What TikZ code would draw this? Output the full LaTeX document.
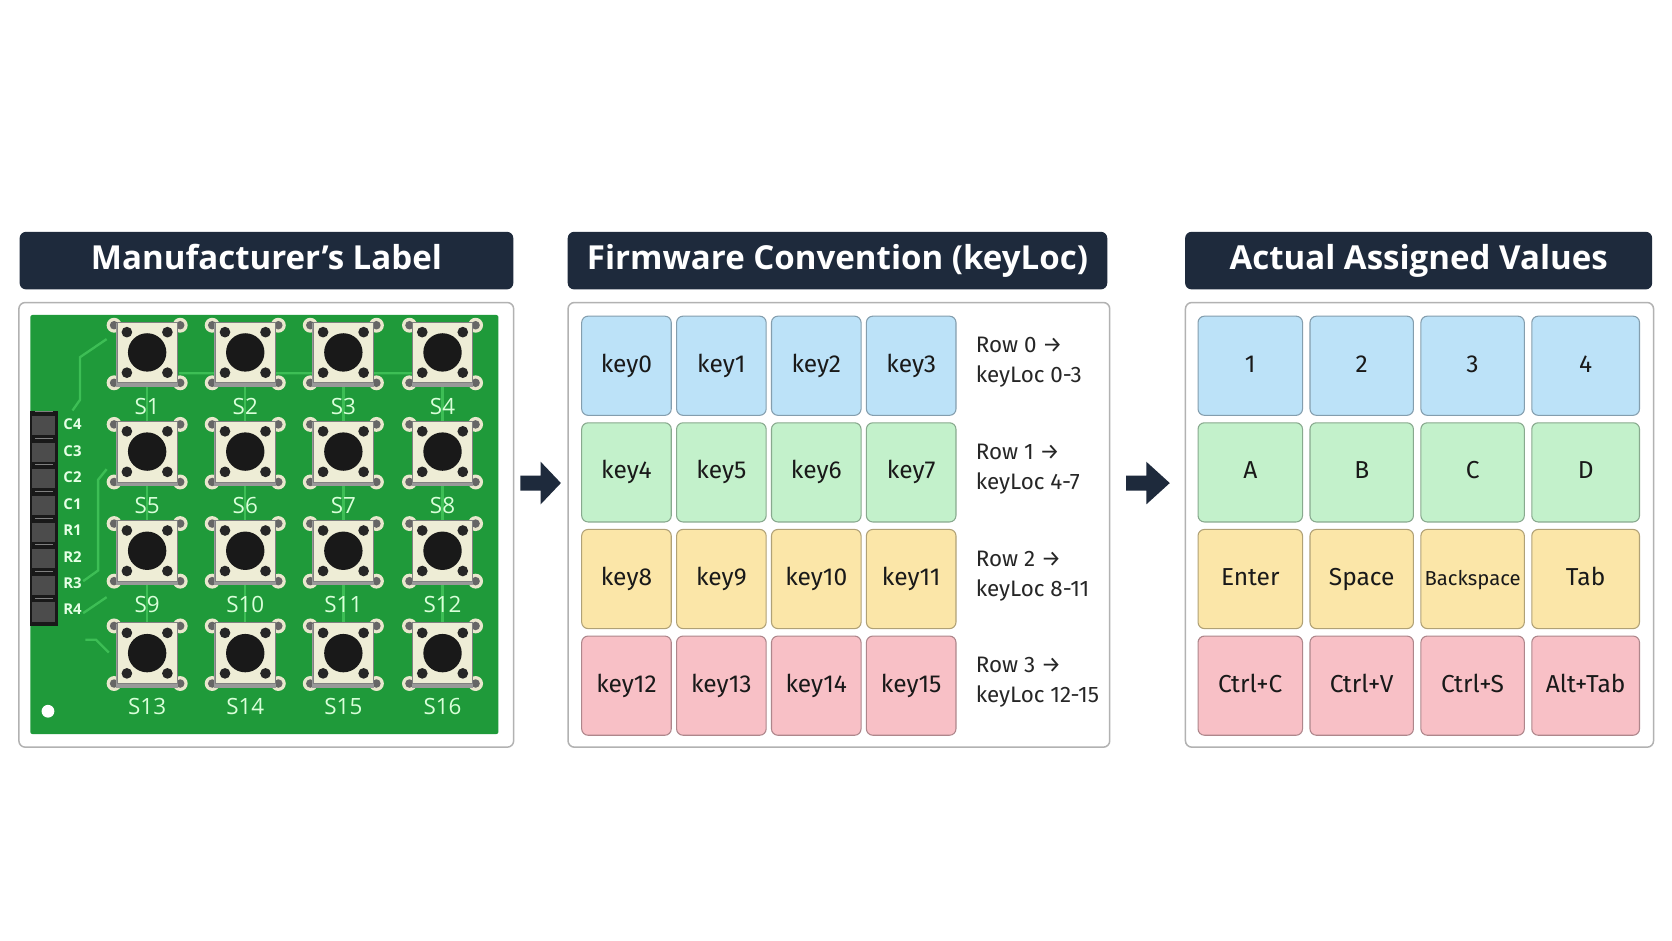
\documentclass[tikz,border=0pt]{standalone}
\usepackage{fontspec}
\setmainfont{Open Sans}
\newfontfamily\cellf{Fira Sans}
\begin{document}
\begin{tikzpicture}[x=0.5pt,y=-0.5pt,
  box/.style 2 args={minimum width=#1*0.5pt,minimum height=#2*0.5pt,inner sep=0,anchor=north west},
  hdr/.style={fill=hdrc,rounded corners=3pt,draw=none},
  body/.style={fill=white,draw=black!30,line width=0.7pt,rounded corners=3pt},
  hdrtxt/.style={text=white,font=\bfseries\fontsize{15.5}{18}\selectfont,text height=11.5pt,text depth=3.5pt,inner sep=0},
  cell/.style={draw=#1!70!black,fill=#1,rounded corners=3pt,line width=0.5pt},
  ctxt/.style={font=\cellf\fontsize{11.5}{13}\selectfont,text=black!90,text height=8.5pt,text depth=2.5pt},
  rtxt/.style={font=\cellf\fontsize{10.5}{14}\selectfont,text=black!85,align=left,anchor=west},
  slab/.style={font=\fontsize{10.5}{12}\selectfont,text=white!85!green},
  pin/.style={font=\bfseries\fontsize{7}{8}\selectfont,text=white!90!green},
  tr/.style={trace,line width=1.1pt},
  arr/.style={fill=hdrc,draw=none},
  pics/btn/.style={code={
    \foreach \sx in {-1,1}\foreach \sy in {-1,1}{
      \fill[white!85!yellow!80!gray] (\sx*31,\sy*27) circle (7);
      \fill[black!60] (\sx*31,\sy*27) circle (4);}
    \fill[black!40] (-29,-29)rectangle(29,31);
    \fill[white!88!yellow!85!gray] (-28,-30) rectangle (28,27);
    \draw[black!50,line width=0.4pt] (-28,-30) rectangle (28,27);
    \foreach \sx in {-1,1}\foreach \sy in {-1,1}\fill[black!85] (\sx*19,\sy*19-1.5) circle (5);
    \fill[black!90] (0,-1.5) circle (18);
  }}]
\definecolor{hdrc}{HTML}{1E2A3C}
\definecolor{pcb}{HTML}{1F9A3A}
\definecolor{trace}{HTML}{3DBE55}
\definecolor{cb}{HTML}{BCE2F8}
\definecolor{cg}{HTML}{C3F1CB}
\definecolor{cy}{HTML}{FBE6A8}
\definecolor{cr}{HTML}{F8C0C6}
\useasboundingbox (0,0) rectangle (1568,882);
\fill[white] (0,0) rectangle (1568,882);
% ---- panel 1
\node[hdr,box={463}{54}] (h1) at (18,217) {};
\node[hdrtxt] (h1t) at (h1.center) {Manufacturer’s Label};
\node[body,box={464}{417}] (b1) at (17,283) {};
\node[fill=pcb,rounded corners=1pt,box={439}{393}] (pcbn) at (28,295) {};
% traces
\draw[tr] (68,385)--(75,375)--(75,335)--(100,318);
\draw[tr] (168,350)--(392,350)--(402,340);
\draw[tr] (78,545)--(92,535)--(92,450)--(100,440);
\draw[tr] (78,575)--(100,560);
\draw[tr] (80,600)--(90,600)--(102,612);
\foreach \x in {138,230,322,415}\draw[tr] (\x,360)--(\x,640);
% header
\fill[black!90] (28,385) rectangle (54,587);
\foreach \i in {0,...,7}{\fill[black!70] (30,390+\i*25) rectangle (52,408+\i*25);
  \draw[gray,line width=0.5pt] (33,386+\i*25)--(50,386+\i*25);}
\foreach \t [count=\i from 0] in {C4,C3,C2,C1,R1,R2,R3,R4}\node[pin] (p\i) at (68,398+\i*24.8) {\t};
\fill[white] (45,667) circle (6);
\foreach \y [count=\r from 0] in {332,425,518,614}
  \foreach \x [count=\c from 1] in {138,230,322,415}{
    \pgfmathtruncatemacro\n{\r*4+\c}
    \pic at (\x,\y) {btn};
    \node[slab] (s\n) at (\x,\y+49) {S\n};}
% arrow 1
\fill[arr] (488,446)--(507,446)--(507,433)--(526,453)--(507,473)--(507,460)--(488,460)--cycle;
% ---- panel 2
\node[hdr,box={506}{54}] (h2) at (532,217) {};
\node[hdrtxt] (h2t) at (h2.center) {Firmware Convention (keyLoc)};
\node[body,box={508}{417}] (b2) at (532,283) {};
\foreach \y/\col/\rr/\rng [count=\r from 0] in {296/cb/0/0-3,396/cg/1/4-7,496/cy/2/8-11,596/cr/3/12-15}{
  \foreach \x [count=\c from 0] in {545,634,723,812}{
    \pgfmathtruncatemacro\n{\r*4+\c}
    \node[cell=\col,box={84}{93}] (k\n) at (\x,\y) {};
    \node[ctxt] at (k\n.center) {key\n};}
  \node[rtxt] (rl\r) at (908,\y+44) {Row \rr{} →\\keyLoc \rng};}
% arrow 2
\fill[arr] (1056,446)--(1075,446)--(1075,433)--(1097,453)--(1075,473)--(1075,460)--(1056,460)--cycle;
% ---- panel 3
\node[hdr,box={438}{54}] (h3) at (1111,217) {};
\node[hdrtxt] (h3t) at (h3.center) {Actual Assigned Values};
\node[body,box={439}{417}] (b3) at (1111,283) {};
\foreach \y/\col/\la/\lb/\lc/\ld [count=\r from 0] in
 {296/cb/1/2/3/4, 396/cg/A/B/C/D, 496/cy/Enter/Space/{\fontsize{9.5}{11}\selectfont Backspace}/Tab, 596/cr/Ctrl+C/Ctrl+V/Ctrl+S/Alt+Tab}{
  \foreach \x/\w/\t [count=\c from 0] in {1123/98/\la,1228/97/\lb,1332/97/\lc,1436/101/\ld}{
    \node[cell=\col,box={\w}{93}] (v\r\c) at (\x,\y) {};
    \node[ctxt] at (v\r\c.center) {\t};}}
\end{tikzpicture}
\end{document}
